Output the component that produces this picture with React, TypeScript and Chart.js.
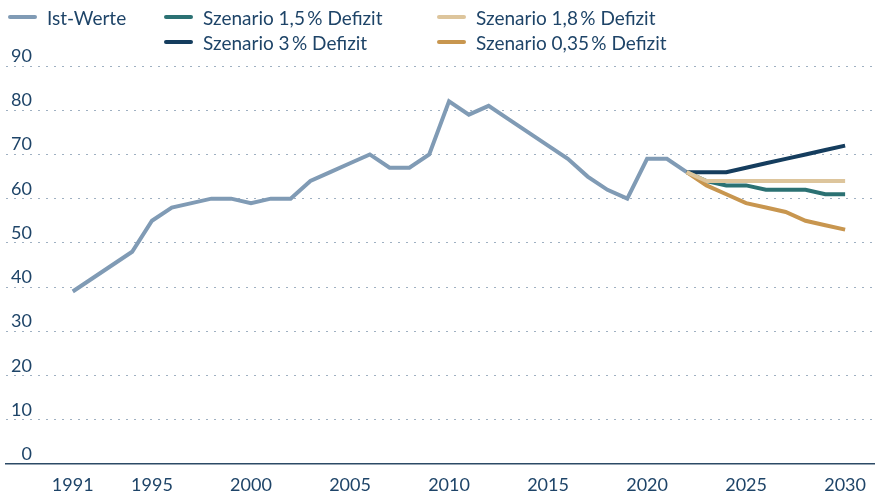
import React, { useEffect, useRef } from "react";
import { Chart, registerables } from "chart.js";

Chart.register(...registerables);

// ---- data ----
const istYears = [
  1991, 1992, 1993, 1994, 1995, 1996, 1997, 1998, 1999, 2000, 2001, 2002, 2003,
  2004, 2005, 2006, 2007, 2008, 2009, 2010, 2011, 2012, 2013, 2014, 2015, 2016,
  2017, 2018, 2019, 2020, 2021, 2022,
];
const istWerte = [
  39, 42, 45, 48, 55, 58, 59, 60, 60, 59, 60, 60, 64, 66, 68, 70, 67, 67, 70,
  82, 79, 81, 78, 75, 72, 69, 65, 62, 60, 69, 69, 66,
];
const szenarioYears = [2022, 2023, 2024, 2025, 2026, 2027, 2028, 2029, 2030];
const szenario15 = [66, 64, 63, 63, 62, 62, 62, 61, 61];
const szenario18 = [66, 64, 64, 64, 64, 64, 64, 64, 64];
const szenario3 = [66, 66, 66, 67, 68, 69, 70, 71, 72];
const szenario035 = [66, 63, 61, 59, 58, 57, 55, 54, 53];

const xTickLabels = [1991, 1995, 2000, 2005, 2010, 2015, 2020, 2025, 2030];
const yTickLabels = [0, 10, 20, 30, 40, 50, 60, 70, 80, 90];

const seriesNames = [
  "Ist-Werte",
  "Szenario 1,5\u2009% Defizit",
  "Szenario 1,8\u2009% Defizit",
  "Szenario 3\u2009% Defizit",
  "Szenario 0,35\u2009% Defizit",
];

// ---- style ----
const C_TEXT = "#1e4468";
const C_IST = "#809bb5";
const C_15 = "#2b7173";
const C_18 = "#ddc59c";
const C_3 = "#153d5e";
const C_035 = "#c8964f";
const C_GRID = "#9fb0c2";
const C_AXIS = "#2c4a66";
const FONT = "Lato, 'Open Sans', sans-serif";

const legendLayout = [
  { idx: 0, color: C_IST, left: 8, top: 17 },
  { idx: 1, color: C_15, left: 164, top: 17 },
  { idx: 2, color: C_18, left: 437, top: 17 },
  { idx: 3, color: C_3, left: 164, top: 42 },
  { idx: 4, color: C_035, left: 437, top: 42 },
];

const pts = (xs: number[], ys: number[]) => xs.map((x, i) => ({ x, y: ys[i] }));

const yLabelPlugin = {
  id: "yLabels",
  afterDraw(chart: any) {
    const ys = chart.scales.y;
    const ctx = chart.ctx;
    ctx.save();
    ctx.font = `18px ${FONT}`;
    ctx.fillStyle = C_TEXT;
    ctx.textAlign = "right";
    ctx.textBaseline = "alphabetic";
    yTickLabels.forEach((v) => {
      ctx.fillText(String(v), 32, ys.getPixelForValue(v) - 4);
    });
    ctx.restore();
  },
};

export default function App() {
  const ref = useRef<HTMLCanvasElement>(null);

  useEffect(() => {
    if (!ref.current) return;
    const ds = (label: string, data: any, color: string) => ({
      label,
      data,
      borderColor: color,
      backgroundColor: color,
      borderWidth: 4,
      pointRadius: 0,
      pointHoverRadius: 0,
      tension: 0,
      fill: false,
    });
    const chart = new Chart(ref.current, {
      type: "line",
      data: {
        datasets: [
          ds(seriesNames[2], pts(szenarioYears, szenario18), C_18),
          ds(seriesNames[4], pts(szenarioYears, szenario035), C_035),
          ds(seriesNames[1], pts(szenarioYears, szenario15), C_15),
          ds(seriesNames[3], pts(szenarioYears, szenario3), C_3),
          ds(seriesNames[0], pts(istYears, istWerte), C_IST),
        ],
      },
      options: {
        animation: false,
        responsive: false,
        maintainAspectRatio: false,
        layout: { padding: { top: 66, left: 6, right: 0, bottom: 0 } },
        plugins: { legend: { display: false }, tooltip: { enabled: false } },
        scales: {
          x: {
            type: "linear",
            min: 1987.63,
            max: 2031.5,
            afterBuildTicks: (s: any) => {
              s.ticks = xTickLabels.map((v) => ({ value: v }));
            },
            grid: { display: false, drawTicks: false },
            border: { display: true, color: C_AXIS, width: 1.5 },
            ticks: {
              color: C_TEXT,
              font: { family: FONT, size: 18, lineHeight: 1 },
              padding: 12,
              maxRotation: 0,
              autoSkip: false,
              callback: (v: any) => String(v),
            },
          },
          y: {
            type: "linear",
            min: 0,
            max: 90,
            afterBuildTicks: (s: any) => {
              s.ticks = yTickLabels.map((v) => ({ value: v }));
            },
            grid: {
              color: (c: any) => (c.tick && c.tick.value === 0 ? "rgba(0,0,0,0)" : C_GRID),
              lineWidth: 1,
              drawTicks: false,
            },
            border: { display: false, dash: [2, 6] },
            ticks: { display: false },
          },
        },
      },
      plugins: [yLabelPlugin],
    });
    return () => chart.destroy();
  }, []);

  return (
    <div style={{ position: "fixed", left: 0, top: 0, width: 878, height: 494, overflow: "hidden", background: "#fff" }}>
      <canvas ref={ref} width={878} height={506} style={{ position: "absolute", left: 0, top: 0 }} />
      {legendLayout.map((l) => (
        <div
          key={l.idx}
          style={{
            position: "absolute",
            left: l.left,
            top: l.top - 12,
            height: 24,
            display: "flex",
            alignItems: "center",
            fontFamily: FONT,
            fontSize: 19,
            color: C_TEXT,
            whiteSpace: "nowrap",
          }}
        >
          <span
            style={{
              display: "inline-block",
              width: 29,
              height: 4,
              borderRadius: 2,
              background: l.color,
              marginRight: 10,
            }}
          />
          <span>{seriesNames[l.idx]}</span>
        </div>
      ))}
    </div>
  );
}
